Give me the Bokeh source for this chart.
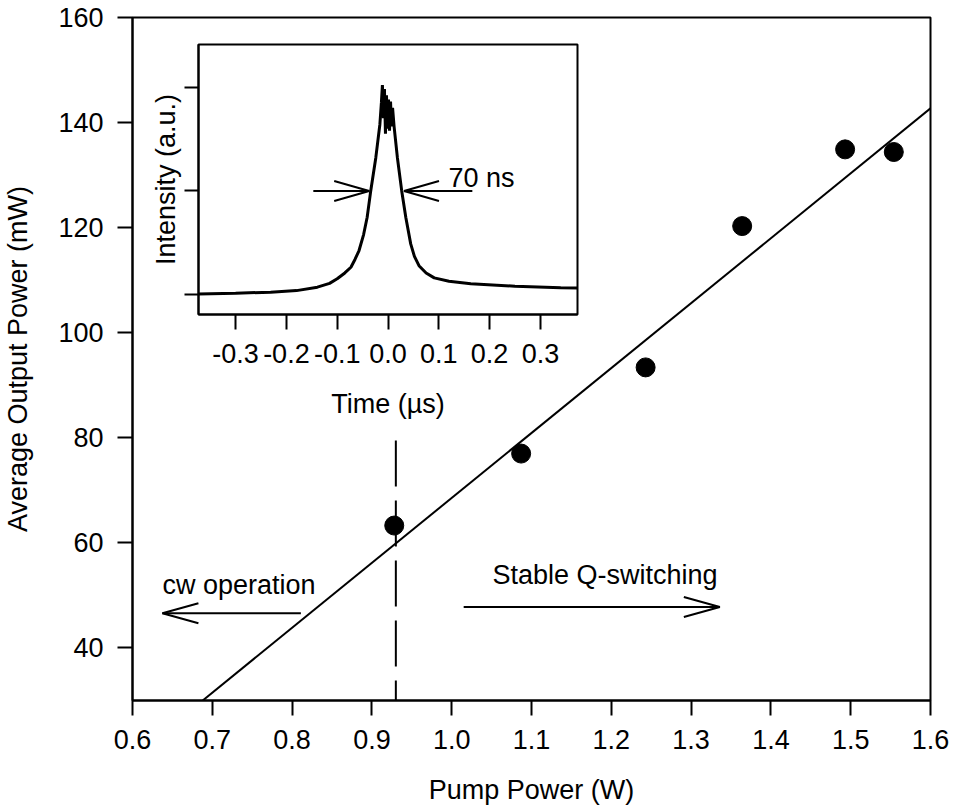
from bokeh.plotting import figure
from bokeh.models import Column, FixedTicker, Range1d
from bokeh.core.properties import value
from bokeh.embed import file_html
from bokeh.resources import INLINE

# ---------------- data ----------------
pump_w = [0.928, 1.087, 1.243, 1.364, 1.493, 1.554]
out_mw = [63.3, 77.0, 93.4, 120.3, 134.9, 134.4]

fit_x = [0.688, 1.6]
fit_y = [30.0, 142.7]

threshold_x = [0.93, 0.93]
threshold_y = [79.5, 30.0]

x_ticks = [0.6, 0.7, 0.8, 0.9, 1.0, 1.1, 1.2, 1.3, 1.4, 1.5, 1.6]
x_tick_labels = ["0.6", "0.7", "0.8", "0.9", "1.0", "1.1", "1.2", "1.3", "1.4", "1.5", "1.6"]
y_ticks = [40, 60, 80, 100, 120, 140, 160]

cw_arrow = dict(tail=(0.811, 46.6), head=(0.6375, 46.6))
qs_arrow = dict(tail=(1.015, 47.8), head=(1.336, 47.8))
cw_label = dict(x=0.6376, y=51.9, text="cw operation")
qs_label = dict(x=1.051, y=53.8, text="Stable Q-switching")

# inset pulse
time_us = [-0.373, -0.30, -0.231, -0.18, -0.139, -0.115, -0.1, -0.085, -0.073, -0.065,
           -0.057, -0.048, -0.041, -0.034, -0.024, -0.016, -0.013, -0.011, -0.009, -0.007,
           -0.005, -0.003, -0.001, 0.001, 0.003, 0.005, 0.007, 0.009, 0.012, 0.0185,
           0.027, 0.035, 0.0447, 0.052, 0.061, 0.075, 0.091, 0.12, 0.163, 0.25, 0.34, 0.373]
intensity = [0.008, 0.015, 0.025, 0.04, 0.073, 0.11, 0.154, 0.21, 0.265, 0.34,
             0.426, 0.58, 0.746, 1.0, 1.32, 1.64, 1.85, 2.02, 1.70, 1.98,
             1.55, 1.92, 1.60, 1.88, 1.58, 1.86, 1.62, 1.80, 1.62, 1.32,
             1.0, 0.746, 0.49, 0.37, 0.28, 0.21, 0.163, 0.13, 0.106, 0.082, 0.067, 0.064]
inset_x_ticks = [-0.3, -0.2, -0.1, 0.0, 0.1, 0.2, 0.3]
inset_x_labels = ["-0.3", "-0.2", "-0.1", "0.0", "0.1", "0.2", "0.3"]
inset_y_ticks = [0, 1, 2]
fwhm_left = dict(tail=(-0.147, 1.0), head=(-0.037, 1.0))
fwhm_right = dict(tail=(0.166, 1.0), head=(0.0315, 1.0))
fwhm_label = dict(x=0.119, y=1.128, text="70 ns")

FONT = "Liberation Sans"
FS = "27px"


def style_axis(ax, tick_out=15):
    ax.axis_line_width = 2
    ax.major_tick_line_width = 2
    ax.major_tick_in = 0
    ax.major_tick_out = tick_out
    ax.minor_tick_line_color = None
    ax.major_label_text_font = FONT
    ax.major_label_text_font_size = FS
    ax.major_label_text_color = "black"
    ax.axis_label_text_font = FONT
    ax.axis_label_text_font_size = FS
    ax.axis_label_text_font_style = "normal"
    ax.axis_label_text_color = "black"


def draw_arrow(fig, arrow, sx, sy, length_px=36, half_px=10, width=2):
    (tx, ty), (hx, hy) = arrow["tail"], arrow["head"]
    d = 1 if tx > hx else -1
    bx = hx + d * length_px / sx
    fig.line([tx, hx], [ty, hy], line_color="black", line_width=width)
    fig.line([bx, hx, bx], [hy + half_px / sy, hy, hy - half_px / sy],
             line_color="black", line_width=width)


# ---------------- main figure ----------------
X0, X1, Y0, Y1 = 0.6, 1.6, 30, 160
FW, FH = 798, 683
BL, BR, BT = 124, 23, 17
H = 809
p = figure(width=BL + FW + BR, height=H, frame_width=FW, frame_height=FH,
           x_range=Range1d(X0, X1), y_range=Range1d(Y0, Y1),
           output_backend="svg", toolbar_location=None,
           min_border_left=BL, min_border_right=BR, min_border_top=BT,
           min_border_bottom=H - BT - FH)
p.grid.visible = False
p.background_fill_color = "white"
p.border_fill_color = "white"
p.outline_line_color = "black"
p.outline_line_width = 2
style_axis(p.xaxis[0])
style_axis(p.yaxis[0])

p.xaxis.ticker = FixedTicker(ticks=x_ticks)
p.xaxis.major_label_overrides = {t: l for t, l in zip(x_ticks, x_tick_labels)}
p.xaxis.axis_label = "Pump Power (W)"
p.xaxis.major_label_standoff = 14
p.xaxis.axis_label_standoff = 23
p.yaxis.ticker = FixedTicker(ticks=y_ticks)
p.yaxis.axis_label = "Average Output Power (mW)"
p.yaxis.major_label_standoff = 14
p.yaxis.axis_label_standoff = 22

p.line(fit_x, fit_y, line_color="black", line_width=2)
p.line(threshold_x, threshold_y, line_color="black", line_width=2, line_dash="46 14")
p.scatter(pump_w, out_mw, size=19, marker="circle", fill_color="black", line_color="black")

px_x = FW / (X1 - X0)
px_y = FH / (Y1 - Y0)
draw_arrow(p, cw_arrow, px_x, px_y)
draw_arrow(p, qs_arrow, px_x, px_y)
for lab in (cw_label, qs_label):
    p.text(x=[lab["x"]], y=[lab["y"]], text=[lab["text"]], text_font=value(FONT),
           text_font_size=FS, text_color="black", text_baseline="alphabetic", text_align="left")

# ---------------- inset ----------------
IX0, IX1, IY0, IY1 = -0.373, 0.373, -0.19, 2.41
IFW, IFH = 379, 270
IBT, IBB = 5, 116
q = figure(width=BL + IFW + BR, height=IBT + IFH + IBB, frame_width=IFW, frame_height=IFH,
           x_range=Range1d(IX0, IX1), y_range=Range1d(IY0, IY1),
           output_backend="svg", toolbar_location=None,
           min_border_left=BL, min_border_right=BR, min_border_top=IBT, min_border_bottom=IBB)
q.grid.visible = False
q.background_fill_color = "white"
q.border_fill_alpha = 0
q.outline_line_color = "black"
q.outline_line_width = 2
style_axis(q.xaxis[0])
style_axis(q.yaxis[0], tick_out=14)
q.xaxis.ticker = FixedTicker(ticks=inset_x_ticks)
q.xaxis.major_label_overrides = {t: l for t, l in zip(inset_x_ticks, inset_x_labels)}
q.xaxis.axis_label = "Time (\u00b5s)"
q.xaxis.major_label_standoff = 14
q.xaxis.axis_label_standoff = 23
q.yaxis.ticker = FixedTicker(ticks=inset_y_ticks)
q.yaxis.major_label_overrides = {t: "" for t in inset_y_ticks}
q.yaxis.major_label_standoff = 0
q.yaxis.axis_label = "Intensity (a.u.)"
q.yaxis.axis_label_standoff = 4

q.line(time_us, intensity, line_color="black", line_width=3)
ipx_x = IFW / (IX1 - IX0)
ipx_y = IFH / (IY1 - IY0)
draw_arrow(q, fwhm_left, ipx_x, ipx_y, length_px=35)
draw_arrow(q, fwhm_right, ipx_x, ipx_y, length_px=35)
q.text(x=[fwhm_label["x"]], y=[fwhm_label["y"]], text=[fwhm_label["text"]], text_font=value(FONT),
       text_font_size=FS, text_color="black", text_baseline="alphabetic", text_align="left")

# place inset over the main plot: inset frame top-left at page (198, 44)
inset_left = 198 - 8 - BL
inset_top = 44 - IBT
inset_h = IBT + IFH + IBB
q.margin = (inset_top - H, 0, H - inset_top - inset_h, inset_left)

layout = Column(p, q, spacing=0)
open("out.html", "w").write(file_html(layout, INLINE))
